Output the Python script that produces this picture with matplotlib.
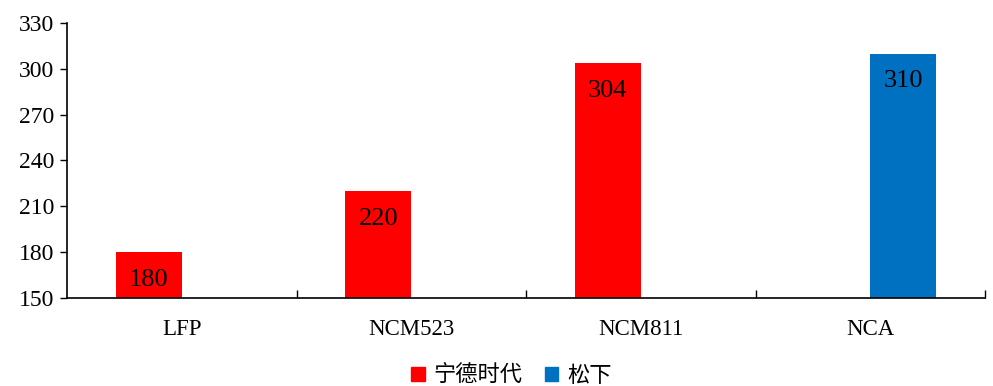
import numpy as np
import matplotlib.pyplot as plt
from matplotlib.patches import Patch

categories = ['LFP', 'NCM523', 'NCM811', 'NCA']
catl_values = [180, 220, 304, np.nan]
panasonic_values = [np.nan, np.nan, np.nan, 310]
series_names = ['宁德时代', '松下']
colors = ['#FF0000', '#0070C0']

plt.rcParams['font.family'] = ['Liberation Serif', 'Noto Sans CJK SC']

fig = plt.figure(figsize=(9.93, 3.86), dpi=100)
ax = fig.add_axes([0.0675, 0.228, 0.9245, 0.7124])

x = np.arange(len(categories))
w = 0.288
for vals, off, c in [(catl_values, -w / 2, colors[0]), (panasonic_values, w / 2, colors[1])]:
    bars = ax.bar(x + off, np.nan_to_num(vals, nan=0), width=w, color=c, zorder=2)
    for b, v in zip(bars, vals):
        if np.isnan(v):
            b.set_visible(False)
            continue
        ax.annotate(f'{v:.0f}', (b.get_x() + b.get_width() / 2, v),
                    xytext=(0, -20), textcoords='offset points',
                    ha='center', va='center', fontsize=19, color='black')

ax.set_ylim(150, 330)
ax.set_yticks(np.arange(150, 331, 30))
ax.set_xlim(-0.5, 3.5)
ax.set_xticks(x + 0.5)
ax.set_xticklabels([])
ax.set_xticks(x, minor=True)
ax.set_xticklabels(categories, minor=True)
ax.tick_params(axis='x', which='major', direction='in', length=6, width=1)
ax.tick_params(axis='x', which='minor', length=0, pad=15, labelsize=16.5)
ax.tick_params(axis='y', direction='out', length=5, width=1, labelsize=17, pad=4)

for s in ['top', 'right']:
    ax.spines[s].set_visible(False)
for s in ['left', 'bottom']:
    ax.spines[s].set_linewidth(1.2)

handles = [Patch(color=c, label=n) for c, n in zip(colors, series_names)]
fig.legend(handles=handles, loc='lower center', bbox_to_anchor=(0.515, -0.055), ncol=2,
           frameon=False, handlelength=0.6, handleheight=0.6, handletextpad=0.4,
           columnspacing=1.0, prop={'family': ['Noto Sans CJK SC'], 'size': 16})

fig.savefig('out.png', dpi=100)
